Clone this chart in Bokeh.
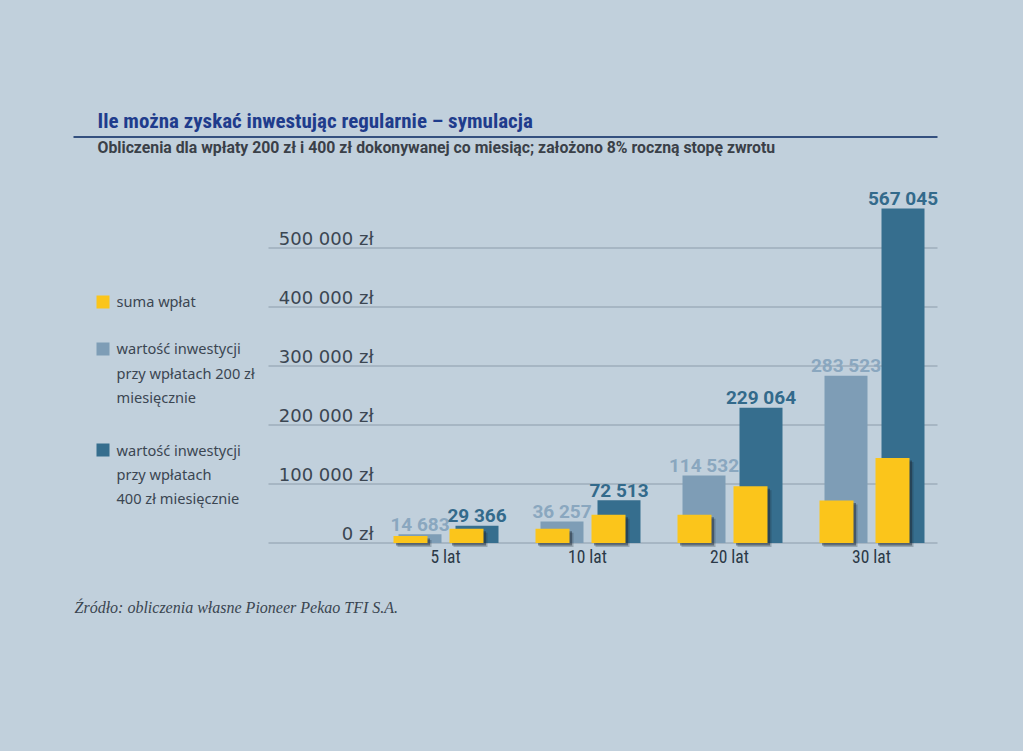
from bokeh.plotting import figure
from bokeh.models import Range1d
from bokeh.core.properties import value
from bokeh.embed import file_html
from bokeh.resources import INLINE

# ---------------- data ----------------
categories = ["5 lat", "10 lat", "20 lat", "30 lat"]
suma_wplat_200 = [12000, 24000, 48000, 72000]
suma_wplat_400 = [24000, 48000, 96000, 144000]
wartosc_200 = [14683, 36257, 114532, 283523]
wartosc_400 = [29366, 72513, 229064, 567045]
y_ticks = [0, 100000, 200000, 300000, 400000, 500000]
y_tick_labels = ["0 zł", "100 000 zł", "200 000 zł", "300 000 zł", "400 000 zł", "500 000 zł"]
title_text = "Ile można zyskać inwestując regularnie – symulacja"
subtitle_text = "Obliczenia dla wpłaty 200 zł i 400 zł dokonywanej co miesiąc; założono 8% roczną stopę zwrotu"
source_text = "Źródło: obliczenia własne Pioneer Pekao TFI S.A."
legend_suma = ["suma wpłat"]
legend_200 = ["wartość inwestycji", "przy wpłatach 200 zł", "miesięcznie"]
legend_400 = ["wartość inwestycji", "przy wpłatach", "400 zł miesięcznie"]

# ---------------- styling ----------------
BG = "#c1d0dc"
YELLOW = "#fbc51b"
LIGHT = "#7e9db6"
DARK = "#366e8e"
LIGHT_LABEL = "#8aa7bf"
DARK_LABEL = "#336a8b"
TITLE_C = "#1f3c8c"
TEXT_C = "#3b4652"
GRID_C = "#8c9cab"
COND = "Roboto Condensed, DejaVu Sans Condensed, Roboto, sans-serif"

W, H = 1023, 751
PX_X = 142.0          # pixels per category step
X0 = 448.0            # page px of first category centre
PX_Y = 59.0 / 100000  # pixels per zł
Y0 = 542.5            # page px of the zero line
BASE_FIX = 0.37       # baseline correction (fraction of font size)


def dx(px):
    return px / PX_X


def dy(px):
    return px / PX_Y


def X(sx):  # page px -> data x
    return (sx - X0) / PX_X


def Y(sy):  # page px -> data y
    return (Y0 - sy) / PX_Y


def BL(sy, size):  # baseline position in page px -> data y
    return Y(sy - BASE_FIX * size)


p = figure(width=W, height=H, output_backend="svg", toolbar_location=None,
           x_range=Range1d(X(0), X(W)), y_range=Range1d(Y(H), Y(0)),
           min_border=0, min_border_left=0, min_border_right=0,
           min_border_top=0, min_border_bottom=0)
p.xaxis.visible = False
p.yaxis.visible = False
p.grid.visible = False
p.outline_line_color = None
p.background_fill_color = BG
p.border_fill_color = BG

idx = list(range(len(categories)))

# title, rule, subtitle
p.text(x=[X(97)], y=[BL(128, 21)], text=[title_text], text_font=value(COND),
       text_font_style="bold", text_font_size="21px", text_color=TITLE_C,
       text_align="left", text_baseline="alphabetic")
p.segment(x0=[X(73)], y0=[Y(136.5)], x1=[X(937)], y1=[Y(136.5)], line_color="#34507f", line_width=2)
p.text(x=[X(97)], y=[BL(153, 15.8)], text=[subtitle_text], text_font=value("Roboto"),
       text_font_style="bold", text_font_size="15.8px", text_color="#3a4048",
       text_align="left", text_baseline="alphabetic")

# grid lines and their labels
p.segment(x0=[X(268)] * len(y_ticks), x1=[X(937)] * len(y_ticks), y0=y_ticks, y1=y_ticks,
          line_color=GRID_C, line_width=1)
p.text(x=[X(373)] * len(y_ticks), y=[t + dy(3 + BASE_FIX * 18) for t in y_ticks], text=y_tick_labels,
       text_font=value("DejaVu Sans"), text_font_size="18px", text_color=TEXT_C,
       text_align="right", text_baseline="alphabetic")

# value bars
off_v = dx(28.5)
bw = dx(43)
p.vbar(x=[i - off_v for i in idx], width=bw, bottom=0, top=wartosc_200, fill_color=LIGHT, line_color=None)
p.vbar(x=[i + off_v for i in idx], width=bw, bottom=0, top=wartosc_400, fill_color=DARK, line_color=None)

# deposit bars with shadow
yw = dx(34)
for off, vals in ((-dx(38), suma_wplat_200), (dx(18), suma_wplat_400)):
    for s, a in ((4, 0.25), (2.5, 0.45)):
        p.vbar(x=[i + off + dx(s) for i in idx], width=yw, bottom=-dy(s),
               top=[v - dy(s) for v in vals], fill_color="#1c2833", fill_alpha=a, line_color=None)
    p.vbar(x=[i + off for i in idx], width=yw, bottom=0, top=vals, fill_color=YELLOW, line_color=None)


def fmt(v):
    return f"{v:,}".replace(",", " ")


lab_gap = dy(3 + BASE_FIX * 19)
p.text(x=[i - off_v for i in idx], y=[v + lab_gap for v in wartosc_200], text=[fmt(v) for v in wartosc_200],
       text_font=value("Roboto"), text_font_style="bold", text_font_size="19px", text_color=LIGHT_LABEL,
       text_align="center", text_baseline="alphabetic")
p.text(x=[i + off_v for i in idx], y=[v + lab_gap for v in wartosc_400], text=[fmt(v) for v in wartosc_400],
       text_font=value("Roboto"), text_font_style="bold", text_font_size="19px", text_color=DARK_LABEL,
       text_align="center", text_baseline="alphabetic")

# category labels
p.text(x=[i - dx(3) for i in idx], y=[BL(563, 17.5)] * len(idx), text=categories,
       text_font=value(COND), text_font_size="17.5px", text_color="#2b3947",
       text_align="center", text_baseline="alphabetic")

# legend
sw_tops = [295, 342, 443]
sw_cols = [YELLOW, LIGHT, DARK]
p.quad(left=[X(96)] * 3, right=[X(109)] * 3, top=[Y(t) for t in sw_tops], bottom=[Y(t + 13) for t in sw_tops],
       fill_color=sw_cols, line_color=None)
leg_lines = legend_suma + legend_200 + legend_400
leg_base = [306, 353, 378, 402, 455, 479, 503]
p.text(x=[X(116)] * len(leg_lines), y=[BL(b, 14.6) for b in leg_base], text=leg_lines,
       text_font=value("Noto Sans"), text_font_size="14.6px", text_color=TEXT_C,
       text_align="left", text_baseline="alphabetic")

# source
p.text(x=[X(74)], y=[BL(613, 16)], text=[source_text], text_font=value("Liberation Serif"),
       text_font_style="italic", text_font_size="16px", text_color="#3a4550",
       text_align="left", text_baseline="alphabetic")

html = file_html(p, INLINE)
html = html.replace("<head>", "<head><style>html,body{background:" + BG + ";}</style>", 1)
open("out.html", "w").write(html)
